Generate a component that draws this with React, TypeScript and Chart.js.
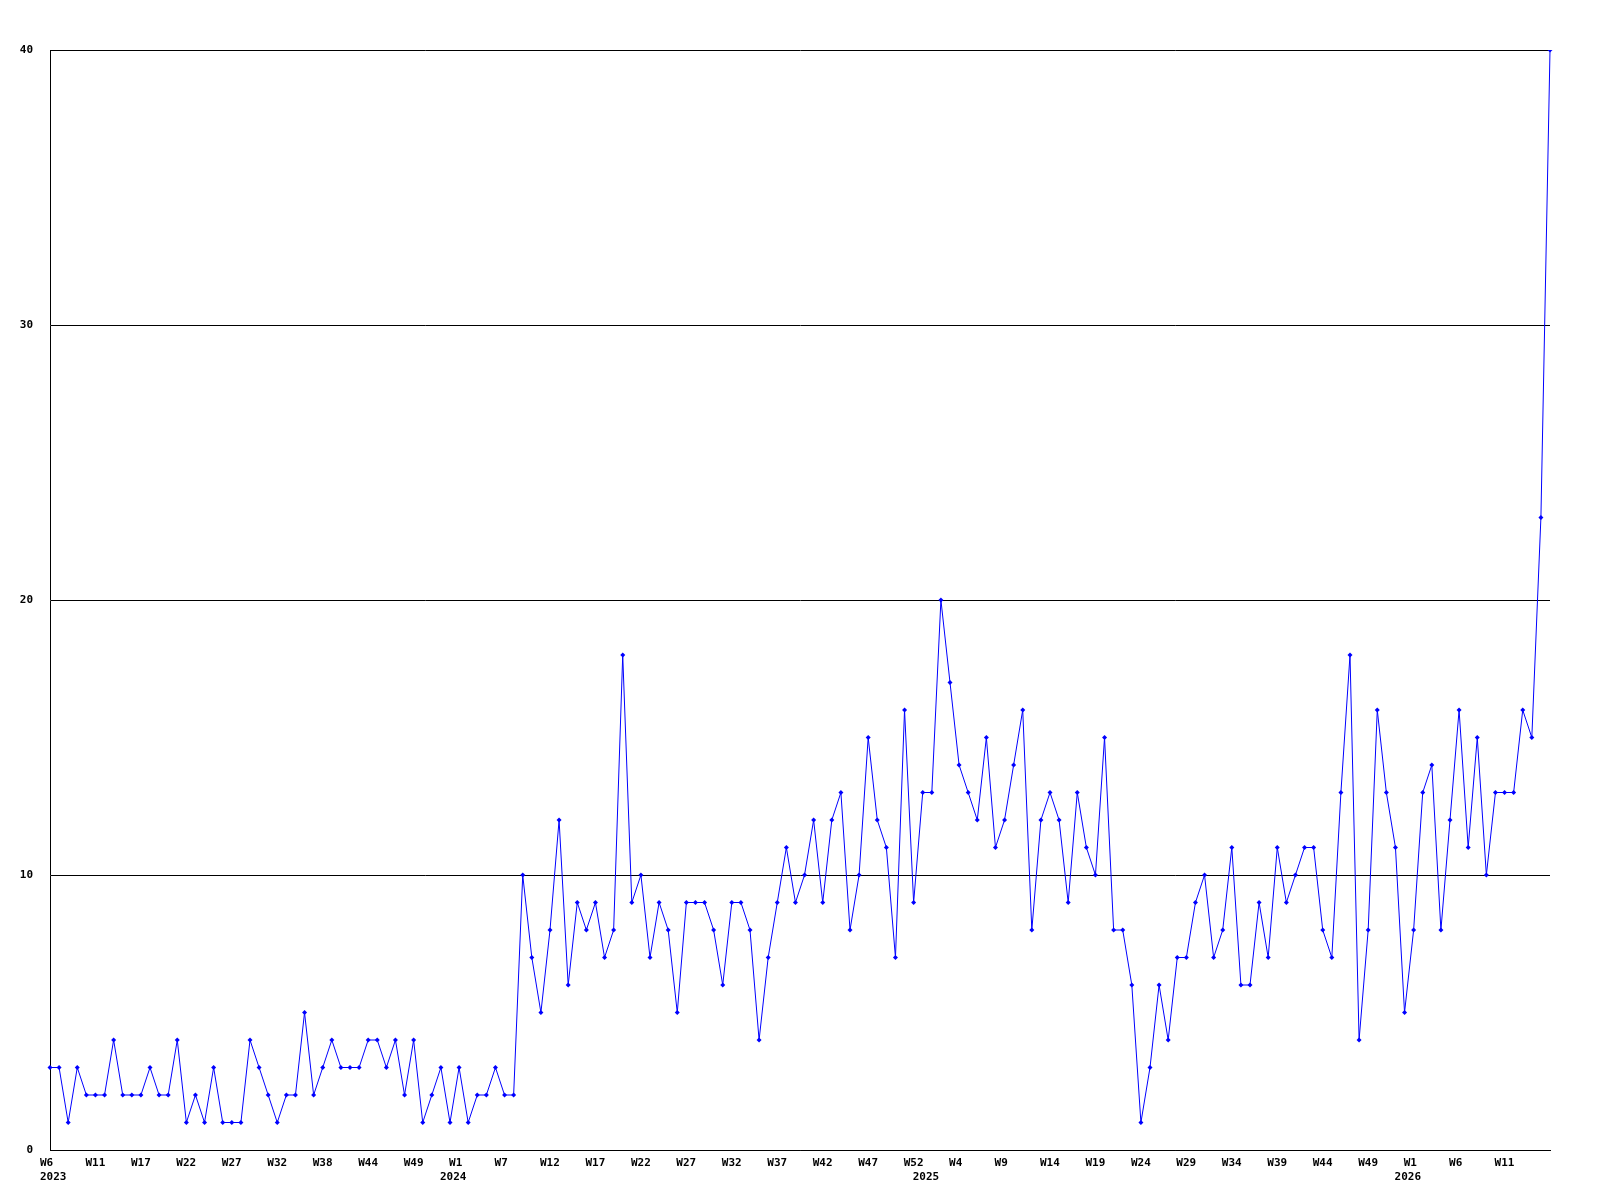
import React, { useEffect, useRef } from "react";
import { Chart, registerables } from "chart.js";

Chart.register(...registerables);

// Weekly counts, split at the year label positions
const values2023: number[] = [
  3, 3, 1, 3, 2, 2, 2, 4, 2, 2, 2, 3, 2, 2, 4, 1, 2, 1, 3, 1, 1, 1, 4, 3, 2, 1,
  2, 2, 5, 2, 3, 4, 3, 3, 3, 4, 4, 3, 4, 2, 4, 1, 2, 3,
];
const values2024: number[] = [
  1, 3, 1, 2, 2, 3, 2, 2, 10, 7, 5, 8, 12, 6, 9, 8, 9, 7, 8, 18, 9, 10, 7, 9, 8,
  5, 9, 9, 9, 8, 6, 9, 9, 8, 4, 7, 9, 11, 9, 10, 12, 9, 12, 13, 8, 10, 15, 12,
  11, 7, 16, 9,
];
const values2025: number[] = [
  13, 13, 20, 17, 14, 13, 12, 15, 11, 12, 14, 16, 8, 12, 13, 12, 9, 13, 11, 10,
  15, 8, 8, 6, 1, 3, 6, 4, 7, 7, 9, 10, 7, 8, 11, 6, 6, 9, 7, 11, 9, 10, 11, 11,
  8, 7, 13, 18, 4, 8, 16, 13, 11,
];
const values2026: number[] = [
  5, 8, 13, 14, 8, 12, 16, 11, 15, 10, 13, 13, 13, 16, 15, 23, 40,
];

// X axis tick labels (week) and their point indices
const weekTickLabels: string[] = [
  "W6", "W11", "W17", "W22", "W27", "W32", "W38", "W44", "W49", "W1", "W7",
  "W12", "W17", "W22", "W27", "W32", "W37", "W42", "W47", "W52", "W4", "W9",
  "W14", "W19", "W24", "W29", "W34", "W39", "W44", "W49", "W1", "W6", "W11",
];
const weekTickIndex: number[] = [
  0, 5, 10, 15, 20, 25, 30, 35, 40, 45, 50, 55, 60, 65, 70, 75, 80, 85, 90, 95,
  100, 105, 110, 115, 120, 125, 130, 135, 140, 145, 150, 155, 160,
];
const yearTickLabels: string[] = ["2023", "2024", "2025", "2026"];
const yearTickIndex: number[] = [0, 44, 96, 149];

// Y axis
const yMin = 0;
const yMax = 40;
const yStep = 10;

const allValues = [...values2023, ...values2024, ...values2025, ...values2026];
const pointLabels = allValues.map((_, i) => String(i));

const FONT_FAMILY = '"DejaVu Sans Mono", "Liberation Mono", monospace';

const xLabelPlugin = {
  id: "xLabels",
  afterDraw(chart: any) {
    const { ctx, chartArea, scales } = chart;
    const x = scales.x;
    ctx.save();
    ctx.font = `bold 11px ${FONT_FAMILY}`;
    ctx.fillStyle = "#000000";
    ctx.textAlign = "left";
    ctx.textBaseline = "middle";
    weekTickLabels.forEach((lab, k) => {
      const px = x.getPixelForValue(weekTickIndex[k]);
      ctx.fillText(lab, px - 10, chartArea.bottom + 13);
    });
    yearTickLabels.forEach((lab, k) => {
      const px = x.getPixelForValue(yearTickIndex[k]);
      ctx.fillText(lab, px - 10, chartArea.bottom + 27.5);
    });
    ctx.restore();
  },
};

export default function App() {
  const canvasRef = useRef<HTMLCanvasElement | null>(null);

  useEffect(() => {
    if (!canvasRef.current) return;
    const chart = new Chart(canvasRef.current, {
      type: "line",
      data: {
        labels: pointLabels,
        datasets: [
          {
            data: allValues,
            borderColor: "#0000ff",
            backgroundColor: "#0000ff",
            borderWidth: 1,
            tension: 0,
            pointStyle: "rectRot",
            pointRadius: 2.5,
            pointBorderWidth: 0,
            pointBackgroundColor: "#0000ff",
            fill: false,
          },
        ],
      },
      options: {
        animation: false,
        responsive: false,
        maintainAspectRatio: false,
        devicePixelRatio: 1,
        layout: { padding: { top: 50, right: 50, left: 0, bottom: 0 } },
        plugins: {
          legend: { display: false },
          tooltip: { enabled: false },
          title: { display: false },
        },
        scales: {
          x: {
            type: "category",
            offset: false,
            grid: { display: false, drawTicks: false },
            border: { display: true, color: "#000000", width: 1 },
            ticks: { display: false },
            afterFit: (scale: any) => {
              scale.height = 50;
            },
          },
          y: {
            min: yMin,
            max: yMax,
            grid: { color: "#000000", lineWidth: 1, drawTicks: false },
            border: { display: true, color: "#000000", width: 1 },
            ticks: {
              stepSize: yStep,
              color: "#000000",
              padding: 17,
              font: { family: FONT_FAMILY, size: 11, weight: "bold" },
            },
            afterFit: (scale: any) => {
              scale.width = 50;
            },
          },
        },
      },
      plugins: [xLabelPlugin],
    });
    return () => chart.destroy();
  }, []);

  return (
    <div
      style={{
        position: "absolute",
        left: 0,
        top: 0,
        width: 1600,
        height: 1200,
        background: "#ffffff",
      }}
    >
      <canvas
        ref={canvasRef}
        width={1600}
        height={1200}
        style={{ width: 1600, height: 1200, display: "block" }}
      />
    </div>
  );
}
